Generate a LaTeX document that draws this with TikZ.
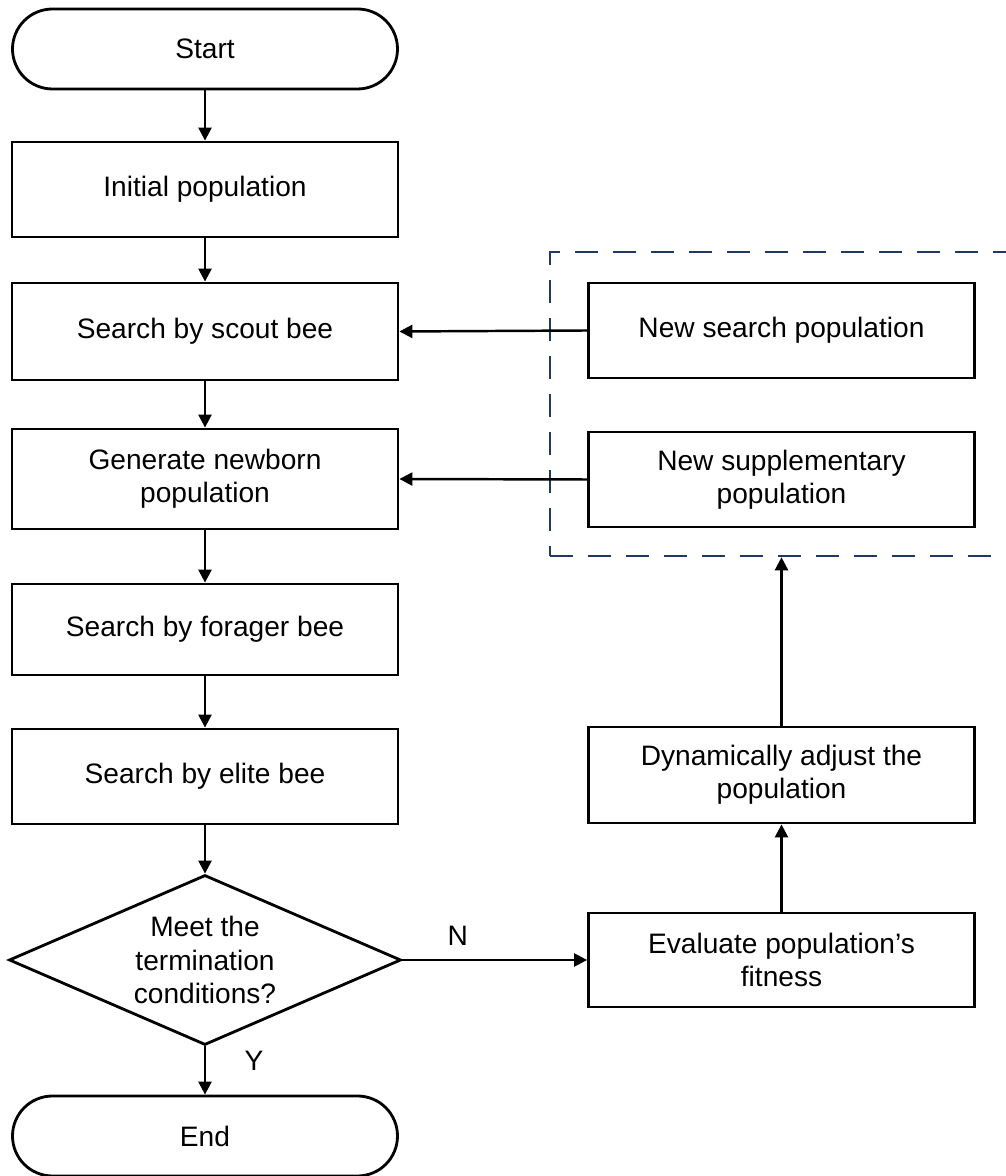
\documentclass[tikz,border=0pt]{standalone}
\usepackage{fontspec}
\setmainfont{Liberation Sans}
\usetikzlibrary{shapes.geometric,arrows.meta,positioning,calc}

\definecolor{navyline}{HTML}{203864}
\newcommand{\flowfont}{\fontsize{16}{19}\selectfont}

\tikzset{
  process/.style={draw, line width=1.6pt, minimum width=7.72cm, minimum height=1.9cm,
    align=center, inner sep=2pt, font=\flowfont},
  terminal/.style={draw, line width=1.6pt, rounded corners=0.8cm, minimum width=7.7cm,
    minimum height=1.6cm, font=\flowfont},
  decision/.style={draw, diamond, aspect=2.3, line width=1.6pt, minimum width=7.84cm,
    minimum height=3.4cm, inner sep=0pt, align=center, font=\flowfont},
  flow/.style={-{Triangle[length=0.26cm,width=0.26cm]}, line width=1.4pt},
  groupbox/.style={draw=navyline, line width=1.5pt, dash pattern=on 0.46cm off 0.3cm}
}

\begin{document}
\begin{tikzpicture}

\useasboundingbox (0,0) rectangle (20.12,23.52);

% Main column
\node[terminal] (start) at (4.10, 22.54) {Start};
\node[process] (init) at (4.10, 19.73) {Initial population};
\node[process, minimum height=1.94cm] (scout) at (4.10, 16.89) {Search by scout bee};
\node[process, minimum height=2cm] (newborn) at (4.10, 13.94) {Generate newborn\\population};
\node[process, minimum height=1.82cm] (forager) at (4.10, 10.93) {Search by forager bee};
\node[process] (elite) at (4.10, 7.99) {Search by elite bee};
\node[decision] (cond) at (4.10, 4.32) {Meet the\\termination\\conditions?};
\node[terminal] (finish) at (4.10, 0.80) {End};

% Right column
\node[groupbox, minimum width=9.6cm, minimum height=6.08cm] (group) at (15.8, 15.44) {};
\node[process] (newsearch) at (15.63, 16.91) {New search population};
\node[process] (newsupp) at (15.63, 13.93) {New supplementary\\population};
\node[process, minimum height=1.92cm] (adjust) at (15.63, 8.02) {Dynamically adjust the\\population};
\node[process, minimum height=1.88cm] (evaluate) at (15.63, 4.32) {Evaluate population’s\\fitness};

% Connectors
\draw[flow] (start) -- (init);
\draw[flow] (init) -- (scout);
\draw[flow] (scout) -- (newborn);
\draw[flow] (newborn) -- (forager);
\draw[flow] (forager) -- (elite);
\draw[flow] (elite) -- (cond);
\draw[flow] (cond) -- node[pos=0.3, right=0.65cm, font=\flowfont] {Y} (finish);
\draw[flow] (cond.east) -- node[pos=0.3, above, yshift=0.15cm, font=\flowfont] {N} (evaluate.west);
\draw[flow] (evaluate) -- (adjust);
\draw[flow] (adjust) -- (adjust |- group.south);
\draw[flow] (newsearch.west) -- (scout.east);
\draw[flow] (newsupp.west) -- (newborn.east);

\end{tikzpicture}
\end{document}
